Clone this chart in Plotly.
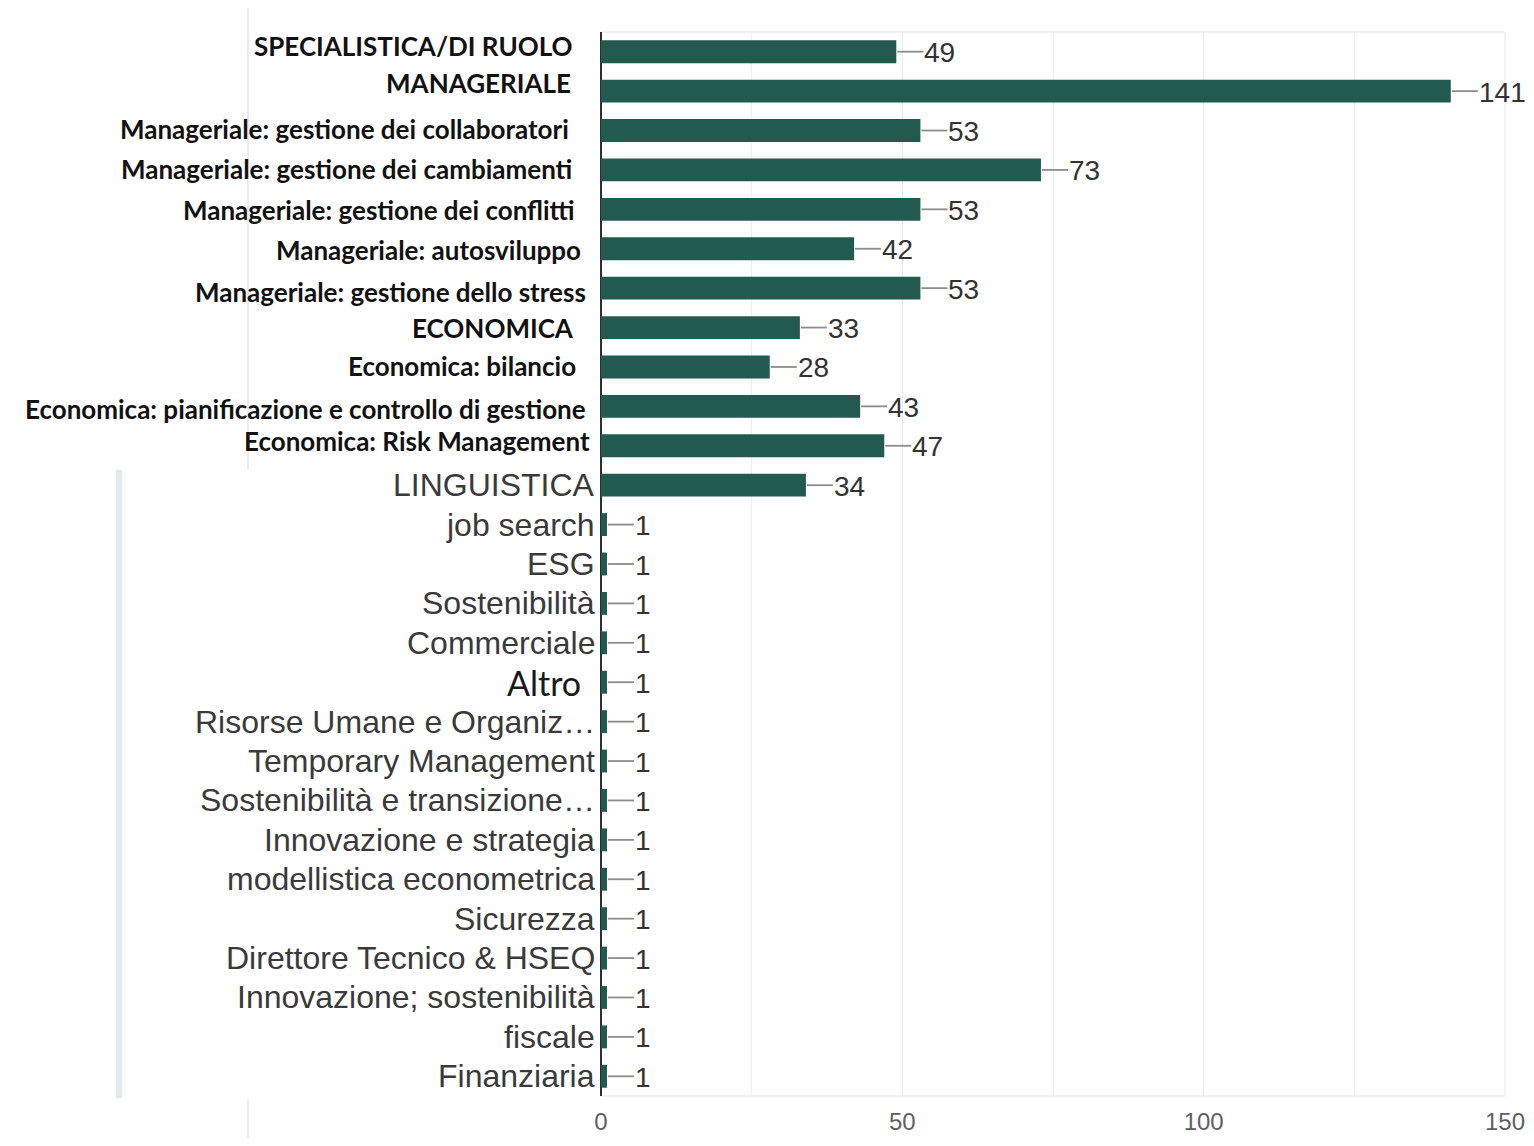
import plotly.graph_objects as go

categories = [
    "SPECIALISTICA/DI RUOLO",
    "MANAGERIALE",
    "Manageriale: gestione dei collaboratori",
    "Manageriale: gestione dei cambiamenti",
    "Manageriale: gestione dei conflitti",
    "Manageriale: autosviluppo",
    "Manageriale: gestione dello stress",
    "ECONOMICA",
    "Economica: bilancio",
    "Economica: pianificazione e controllo di gestione",
    "Economica: Risk Management",
    "LINGUISTICA",
    "job search",
    "ESG",
    "Sostenibilità",
    "Commerciale",
    "Altro",
    "Risorse Umane e Organiz…",
    "Temporary Management",
    "Sostenibilità e transizione…",
    "Innovazione e strategia",
    "modellistica econometrica",
    "Sicurezza",
    "Direttore Tecnico & HSEQ",
    "Innovazione; sostenibilità",
    "fiscale",
    "Finanziaria",
]
values = [49, 141, 53, 73, 53, 42, 53, 33, 28, 43, 47, 34,
          1, 1, 1, 1, 1, 1, 1, 1, 1, 1, 1, 1, 1, 1, 1]
x_ticks = [0, 50, 100, 150]

# label style (style only, not data)
n_bold = 11
altro_label = "Altro"
bold_yshift = [6, 8, 2, 1, -1, -1, -4, 0, 1, -3, 5]
bold_xshift = [-29, -31, -33, -30, -27, -21, -16, -28, -26, -16, -12]

BAR = "#225a50"
OFF = 8  # default body margin of the html page
W, H = 1534 - 2 * OFF, 1146 - 2 * OFF
L = 601 - OFF
T = 32 - OFF
R = W - (1505 - OFF)
B = H - (1096 - OFF)
plot_w = W - L - R
plot_h = H - T - B

fig = go.Figure()
ypos = list(range(len(categories)))
fig.add_trace(go.Bar(
    x=values, y=ypos, orientation="h", width=0.58,
    marker=dict(color=BAR, line=dict(width=0)),
    hoverinfo="x+text", hovertext=categories,
))

shapes = []
annotations = []
for i, (c, v) in enumerate(zip(categories, values)):
    # connector line
    shapes.append(dict(type="line", xref="x", yref="y", xsizemode="pixel",
                       xanchor=v, x0=1, x1=27, y0=i, y1=i,
                       line=dict(color="#8c8c8c", width=1.8)))
    annotations.append(dict(x=v, y=i, xref="x", yref="y", text=str(v),
                            showarrow=False, xanchor="left", xshift=26,
                            yshift=-1,
                            font=dict(family="Liberation Sans, Arial", size=28,
                                      color="#333333")))
    # category label
    if i < n_bold:
        font = dict(family="Lato", size=26, color="#111111")
        text = "<b>%s</b>" % c
        xshift = bold_xshift[i] + 3
        yshift = bold_yshift[i]
    elif c == altro_label:
        font = dict(family="Lato", size=34, color="#1a1a1a")
        text = c
        xshift = -18
        yshift = 0
    else:
        font = dict(family="Liberation Sans, Arial", size=32, color="#3a3a3a")
        text = c
        xshift = -4
        yshift = 0
    annotations.append(dict(x=0, y=i, xref="paper", yref="y", text=text,
                            showarrow=False, xanchor="right", xshift=xshift,
                            yshift=yshift, font=font))

def px_to_paper_x(px):
    return (px - OFF - L) / plot_w

def px_to_paper_y(py):
    return (H - B - (py - OFF)) / plot_h

# plot frame (light)
shapes.append(dict(type="rect", xref="paper", yref="paper", x0=0, x1=1, y0=0, y1=1,
                   line=dict(color="#e6e6e6", width=1), layer="below"))
# remnant light separators of the original composite
shapes.append(dict(type="line", xref="paper", yref="paper",
                   x0=px_to_paper_x(248), x1=px_to_paper_x(248),
                   y0=px_to_paper_y(470), y1=px_to_paper_y(8),
                   line=dict(color="#ececec", width=2)))
shapes.append(dict(type="line", xref="paper", yref="paper",
                   x0=px_to_paper_x(119), x1=px_to_paper_x(119),
                   y0=px_to_paper_y(1098), y1=px_to_paper_y(470),
                   line=dict(color="#e6e9ec", width=6)))
shapes.append(dict(type="line", xref="paper", yref="paper",
                   x0=px_to_paper_x(248), x1=px_to_paper_x(248),
                   y0=px_to_paper_y(1138), y1=px_to_paper_y(1100),
                   line=dict(color="#ececec", width=2)))

fig.update_layout(
    width=W, height=H,
    margin=dict(l=L, r=R, t=T, b=B, autoexpand=False),
    paper_bgcolor="white", plot_bgcolor="white",
    showlegend=False,
    xaxis=dict(range=[0, 150], tickvals=x_ticks, ticktext=[str(t) for t in x_ticks],
               showgrid=True, gridcolor="#e9e9e9", gridwidth=1,
               minor=dict(dtick=25, showgrid=True, gridcolor="#f0f0f0", gridwidth=1),
               zeroline=True, zerolinecolor="#2e2e2e", zerolinewidth=2,
               tickfont=dict(family="Liberation Sans, Arial", size=24, color="#5f5f5f"),
               ticks="", ticklabelstandoff=9, automargin=False, fixedrange=True),
    yaxis=dict(range=[len(categories) - 0.5, -0.5], showticklabels=False,
               showgrid=False, zeroline=False, automargin=False, fixedrange=True),
    shapes=shapes,
    annotations=annotations,
)

fig.write_html("out.html")
